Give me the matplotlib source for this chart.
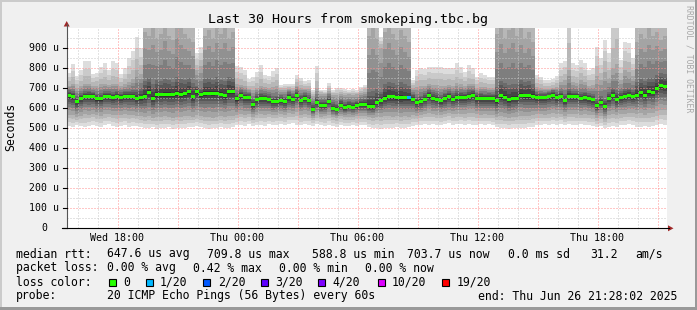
import numpy as np
import matplotlib
matplotlib.use("Agg")
import matplotlib.pyplot as plt
from matplotlib.patches import Rectangle, Polygon
from matplotlib.lines import Line2D
from datetime import datetime, timedelta

OUTPUT_FILE = "out.png"
W, H = 697, 310

END_TIME = datetime(2025, 6, 26, 21, 28, 2)
SPAN_H = 30
STEP_H = 0.2          # 12 min na kolumnę

# mediana rtt w mikrosekundach, jedna wartość na kolumnę
median = [
    662, 657, 631, 648, 658, 658, 658, 646, 646, 658,
    658, 652, 660, 655, 660, 658, 658, 648, 652, 660,
    680, 648, 668, 668, 668, 668, 668, 674, 668, 673,
    682, 657, 682, 668, 675, 675, 675, 675, 670, 662,
    682, 682, 646, 665, 652, 652, 617, 641, 648, 648,
    641, 632, 632, 640, 632, 653, 643, 665, 640, 650,
    637, 595, 628, 612, 612, 635, 600, 592, 615, 602,
    610, 605, 612, 618, 618, 608, 608, 628, 638, 650,
    657, 657, 652, 652, 652, 652, 645, 628, 633, 645,
    661, 650, 645, 636, 648, 657, 645, 654, 654, 654,
    660, 665, 648, 648, 648, 648, 648, 636, 662, 654,
    641, 648, 650, 665, 662, 662, 660, 652, 652, 652,
    657, 662, 654, 657, 638, 657, 657, 657, 650, 654,
    648, 641, 611, 630, 607, 648, 663, 643, 655, 660,
    665, 660, 665, 677, 665, 683, 680, 700, 712, 708,
]

# najwolniejszy ping (20/20)
ping_hi = [
    775, 820, 760, 790, 835, 835, 770, 775, 805, 827,
    790, 833, 825, 770, 800, 850, 885, 955, 900, 1250,
    1200, 1300, 1250, 1200, 1280, 1250, 1200, 1300, 1250, 1220,
    1250, 1180, 873, 907, 1250, 1200, 1300, 1250, 1220, 1280,
    1250, 1200, 810, 805, 790, 745, 755, 780, 815, 765,
    760, 783, 799, 716, 722, 720, 718, 766, 752, 735,
    740, 690, 810, 690, 690, 724, 690, 700, 698, 694,
    690, 694, 690, 707, 716, 1250, 1200, 1280, 955, 1250,
    1300, 1220, 1250, 1200, 1280, 1180, 740, 790, 800, 795,
    807, 807, 807, 807, 800, 800, 800, 823, 807, 780,
    815, 800, 757, 775, 765, 757, 757, 1250, 1300, 1220,
    1250, 1280, 1200, 1250, 1300, 1220, 1180, 765, 757, 740,
    740, 745, 760, 823, 835, 1200, 823, 815, 840, 823,
    790, 798, 907, 850, 940, 873, 1100, 1200, 840, 932,
    925, 850, 1250, 1200, 1280, 1250, 1300, 1220, 1250, 1200,
]

# ping 17/20
ping_hi_mid = [
    712, 720, 700, 710, 722, 722, 712, 712, 718, 722,
    715, 722, 720, 712, 718, 730, 745, 790, 770, 980,
    960, 1010, 950, 970, 1030, 960, 940, 1050, 1000, 970,
    950, 930, 790, 810, 960, 990, 950, 1010, 970, 1020,
    950, 980, 720, 715, 710, 695, 690, 700, 712, 705,
    700, 705, 712, 690, 692, 695, 692, 710, 700, 695,
    695, 660, 700, 672, 668, 685, 665, 665, 670, 665,
    668, 665, 668, 675, 682, 960, 1000, 950, 900, 980,
    1020, 970, 940, 990, 960, 930, 700, 705, 712, 710,
    720, 715, 715, 712, 712, 715, 712, 725, 718, 710,
    720, 718, 700, 705, 705, 700, 700, 970, 1010, 950,
    990, 1030, 960, 1000, 950, 980, 930, 705, 700, 695,
    695, 700, 705, 730, 740, 790, 730, 725, 740, 730,
    712, 715, 760, 740, 780, 750, 800, 820, 740, 790,
    780, 760, 930, 970, 950, 1000, 960, 980, 940, 960,
]

# ping 14/20
ping_hi_core = [
    688, 684, 660, 675, 684, 686, 682, 672, 674, 684,
    684, 680, 686, 680, 686, 686, 690, 690, 700, 735,
    750, 720, 740, 735, 745, 738, 730, 755, 745, 740,
    750, 725, 712, 700, 745, 750, 740, 755, 738, 735,
    755, 750, 675, 690, 680, 676, 648, 668, 676, 674,
    668, 660, 662, 664, 658, 678, 668, 690, 666, 674,
    664, 625, 658, 640, 640, 660, 630, 622, 642, 630,
    636, 632, 638, 645, 648, 680, 685, 695, 680, 720,
    730, 725, 715, 730, 722, 712, 672, 656, 662, 674,
    690, 678, 674, 664, 676, 686, 674, 684, 682, 680,
    688, 692, 674, 676, 672, 674, 672, 705, 735, 725,
    715, 722, 718, 740, 730, 735, 720, 678, 676, 676,
    682, 688, 680, 686, 668, 695, 686, 684, 680, 682,
    674, 668, 648, 660, 645, 680, 700, 690, 684, 695,
    698, 690, 730, 745, 735, 750, 748, 765, 775, 770,
]

# ping 4/20
ping_lo_mid = [
    568, 565, 555, 562, 570, 568, 572, 565, 562, 570,
    572, 568, 565, 568, 570, 565, 568, 562, 560, 555,
    560, 552, 558, 555, 560, 556, 552, 558, 555, 560,
    562, 558, 565, 560, 555, 558, 552, 556, 560, 555,
    560, 562, 565, 572, 568, 570, 555, 565, 570, 568,
    570, 565, 568, 570, 565, 575, 570, 580, 568, 572,
    568, 552, 565, 558, 560, 568, 555, 550, 560, 555,
    558, 555, 560, 562, 562, 555, 552, 558, 556, 560,
    562, 558, 560, 556, 560, 558, 565, 560, 565, 570,
    575, 570, 568, 565, 570, 575, 570, 572, 572, 570,
    575, 578, 570, 568, 570, 568, 568, 555, 560, 556,
    552, 556, 558, 562, 560, 560, 565, 570, 570, 568,
    572, 575, 570, 572, 562, 572, 572, 572, 568, 570,
    568, 565, 550, 562, 548, 568, 572, 565, 570, 572,
    575, 575, 570, 575, 568, 575, 575, 585, 592, 590,
]

# najszybszy ping (1/20)
ping_lo = [
    512, 508, 515, 510, 505, 512, 518, 510, 508, 515,
    520, 512, 506, 510, 515, 508, 512, 510, 505, 502,
    500, 505, 498, 502, 500, 505, 498, 500, 503, 500,
    505, 508, 512, 505, 500, 498, 502, 500, 505, 500,
    502, 505, 515, 518, 512, 520, 510, 515, 518, 512,
    520, 515, 518, 522, 515, 520, 525, 518, 515, 520,
    518, 512, 520, 515, 510, 518, 512, 508, 515, 512,
    510, 515, 512, 518, 515, 505, 500, 502, 498, 500,
    503, 500, 505, 500, 502, 505, 512, 515, 518, 520,
    515, 522, 518, 515, 520, 525, 518, 520, 522, 515,
    520, 518, 515, 522, 518, 520, 515, 505, 500, 502,
    498, 500, 503, 500, 502, 505, 508, 515, 518, 520,
    515, 520, 518, 522, 515, 520, 518, 515, 520, 518,
    515, 512, 505, 510, 502, 508, 512, 508, 515, 518,
    520, 515, 508, 505, 510, 505, 512, 515, 520, 518,
]

# kolumny ze stratą pakietów (%), reszta = 0
loss_pct = {85: 0.42}

LOSS_LEGEND = [
    ("0", "#26ff00"), ("1/20", "#00b8ff"), ("2/20", "#0059ff"),
    ("3/20", "#5e00ff"), ("4/20", "#7e00ff"), ("10/20", "#dd00ff"),
    ("19/20", "#ff0000"),
]
LEGEND_BOX_X = [108.7, 145.7, 203.3, 261.0, 318.3, 378.3, 442.3]
LEGEND_LBL_X = [123.3, 160.0, 217.7, 275.3, 332.7, 391.7, 456.7]

LINE_RTT = [("median rtt:", 16), ("647.6 us avg", 107.3), ("709.8 us max", 207.3),
            ("588.8 us min", 311.7), ("703.7 us now", 407.3), ("0.0 ms sd", 507.7),
            ("31.2", 590), ("am/s", 635)]
LINE_LOSS = [("packet loss:", 16), ("0.00 % avg", 107.3), ("0.42 % max", 193.3),
             ("0.00 % min", 279.3), ("0.00 % now", 365.3)]
LINE_PROBE = [("probe:", 16), ("20 ICMP Echo Pings (56 Bytes) every 60s", 107.3),
              ("end: Thu Jun 26 21:28:02 2025", 478.3)]

MONO = "DejaVu Sans Mono"


def fx(px):
    return px / W


def fy(py):
    return 1 - py / H


def loss_color(p):
    if p <= 0:
        return LOSS_LEGEND[0][1]
    if p <= 5:
        return LOSS_LEGEND[1][1]
    if p <= 10:
        return LOSS_LEGEND[2][1]
    if p <= 15:
        return LOSS_LEGEND[3][1]
    if p <= 20:
        return LOSS_LEGEND[4][1]
    if p <= 50:
        return LOSS_LEGEND[5][1]
    return LOSS_LEGEND[6][1]


med = np.array(median, float)
hi = np.array(ping_hi, float)
hmid = np.array(ping_hi_mid, float)
hcore = np.array(ping_hi_core, float)
lmid = np.array(ping_lo_mid, float)
lo = np.array(ping_lo, float)
n = len(med)
xe = np.arange(n + 1) * STEP_H

inner = [1.0, 0.78, 0.6, 0.45, 0.32, 0.2, 0.1]


def lower_edge(r):
    if r <= 4:
        return lo + (lmid - lo) * (r - 1) / 3
    return med - (med - lmid) * inner[r - 4]


def upper_edge(r):
    if r >= 17:
        return hmid + (hi - hmid) * (r - 17) / 3
    if r >= 14:
        return hcore + (hmid - hcore) * (r - 14) / 3
    return med + (hcore - med) * (r - 10.5) / 3.5


fig = plt.figure(figsize=(W / 100, H / 100), dpi=100, facecolor="#f0f0f0")

# ramka
fig.add_artist(Rectangle((0, fy(2)), 1, 2 / H, transform=fig.transFigure, color="#cbcbcb", lw=0))
fig.add_artist(Rectangle((0, 0), fx(2), 1, transform=fig.transFigure, color="#cbcbcb", lw=0))
fig.add_artist(Rectangle((0, 0), 1, 3 / H, transform=fig.transFigure, color="#999999", lw=0))
fig.add_artist(Rectangle((fx(695), 0), 2 / W, 1, transform=fig.transFigure, color="#999999", lw=0))

ax = fig.add_axes([fx(67), fy(228.3), fx(667) - fx(67), fy(28) - fy(228.3)])
ax.set_facecolor("white")
ax.set_xlim(0, SPAN_H)
ax.set_ylim(0, 1000)
ax.set_xticks([])
ax.set_yticks([])
for s in ax.spines.values():
    s.set_visible(False)

# dym
for i in range(1, 11):
    g = int(190 / 10 * (10 - i)) + 50
    col = "#%02x%02x%02x" % (g, g, g)
    y0 = lower_edge(i)
    y1 = upper_edge(21 - i)
    ax.fill_between(xe, np.append(y0, y0[-1]), np.append(y1, y1[-1]),
                    step="post", color=col, lw=0, zorder=2)

# siatka
dash = (0, (1, 2))
for yv in range(50, 1000, 50):
    c = "#ff9090" if yv % 100 == 0 else "#c8c8c8"
    ax.axhline(yv, color=c, lw=0.72, ls=dash, zorder=3)

start = END_TIME - timedelta(hours=SPAN_H)
first_hour = start.replace(minute=0, second=0) + timedelta(hours=1)
t = first_hour
xt_pos, xt_lbl = [], []
while t < END_TIME:
    off = (t - start).total_seconds() / 3600
    c = "#ff9090" if t.hour % 3 == 0 else "#c8c8c8"
    ax.axvline(off, color=c, lw=0.72, ls=dash, zorder=3)
    if t.hour % 6 == 0:
        xt_pos.append(off)
        xt_lbl.append(t.strftime("%a %H:%M"))
    t += timedelta(hours=1)

# mediana
colors = [loss_color(loss_pct.get(k, 0.0)) for k in range(n)]
ax.bar(xe[:-1], 15, bottom=med - 7.5, width=STEP_H, align="edge", color=colors, lw=0, zorder=5)

# osie
fig.add_artist(Line2D([fx(62), fx(669)], [fy(228.3), fy(228.3)], transform=fig.transFigure, color="black", lw=0.8))
fig.add_artist(Line2D([fx(66.7), fx(66.7)], [fy(228.3), fy(24)], transform=fig.transFigure, color="#555555", lw=0.8))
fig.add_artist(Polygon([(fx(668), fy(225.3)), (fx(668), fy(231.3)), (fx(673.5), fy(228.3))],
                       closed=True, transform=fig.transFigure, color="#a02828", lw=0))
fig.add_artist(Polygon([(fx(63.7), fy(26.5)), (fx(69.7), fy(26.5)), (fx(66.7), fy(21))],
                       closed=True, transform=fig.transFigure, color="#a02828", lw=0))

for yv in range(0, 1000, 100):
    py = 228.3 - yv * 0.2003
    fig.add_artist(Line2D([fx(62.7), fx(66.7)], [fy(py), fy(py)], transform=fig.transFigure, color="black", lw=0.8))
    if yv == 0:
        fig.text(fx(47), fy(py), "0", ha="right", va="center", fontsize=7.1, family=MONO)
    else:
        fig.text(fx(59.3), fy(py), "%d u" % yv, ha="right", va="center", fontsize=7.1, family=MONO)

for pos, lbl in zip(xt_pos, xt_lbl):
    px = 66.7 + pos * 20
    fig.text(fx(px), fy(238.3), lbl, ha="center", va="center", fontsize=7.2, family=MONO)

# teksty
fig.text(fx(348), fy(19.5), "Last 30 Hours from smokeping.tbc.bg", ha="center", va="center",
         fontsize=9.6, family=MONO)
fig.text(fx(11), fy(127), "Seconds", rotation=90, ha="center", va="center", fontsize=8.3, family=MONO)
fig.text(fx(688.5), fy(59), "RRDTOOL / TOBI OETIKER", rotation=270, ha="center", va="center",
         fontsize=5.9, family=MONO, color="#a8a8a8")

for row_y, row in ((254, LINE_RTT), (268, LINE_LOSS), (296, LINE_PROBE)):
    for txt, px in row:
        fig.text(fx(px), fy(row_y), txt, ha="left", va="center", fontsize=8.3, family=MONO)

fig.text(fx(16), fy(282), "loss color:", ha="left", va="center", fontsize=8.3, family=MONO)
for (lbl, c), bx, lx in zip(LOSS_LEGEND, LEGEND_BOX_X, LEGEND_LBL_X):
    fig.add_artist(Rectangle((fx(bx), fy(285.5)), fx(7), fy(278.5) - fy(285.5),
                             transform=fig.transFigure, facecolor=c, edgecolor="black", lw=0.8))
    fig.text(fx(lx), fy(282), lbl, ha="left", va="center", fontsize=8.3, family=MONO)

fig.savefig(OUTPUT_FILE, dpi=100, facecolor=fig.get_facecolor())
